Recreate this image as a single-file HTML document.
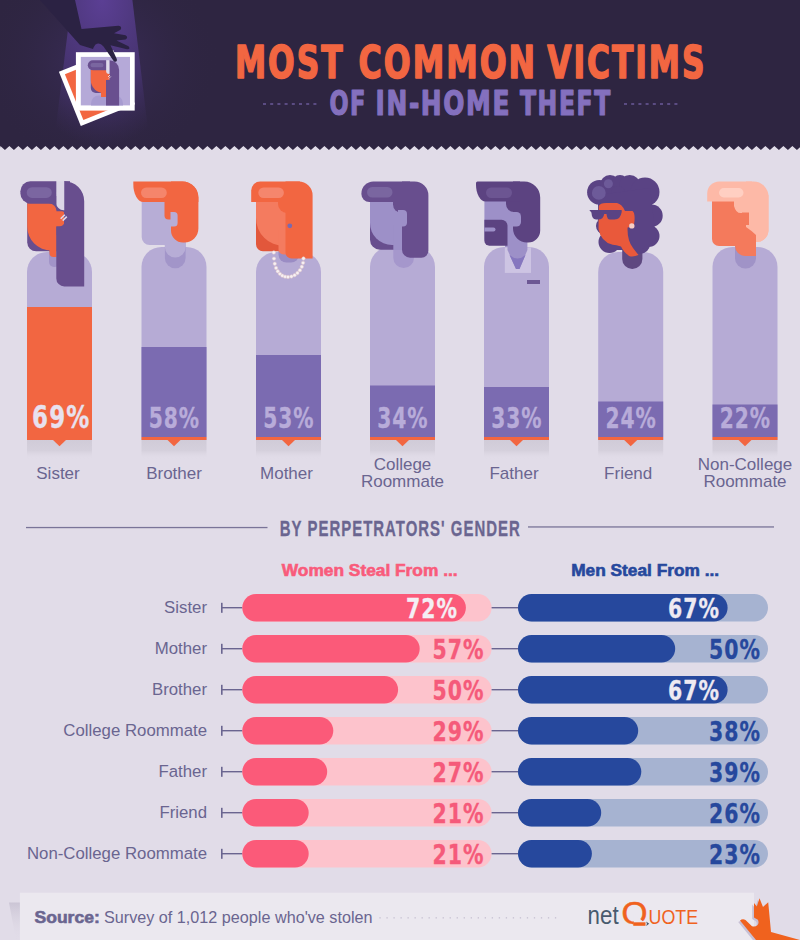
<!DOCTYPE html>
<html><head><meta charset="utf-8"><title>Most Common Victims of In-Home Theft</title>
<style>
html,body{margin:0;padding:0;width:800px;height:940px;overflow:hidden;background:#e1dce8}
svg{display:block;position:absolute;left:0;top:0}
svg{font-family:"Liberation Sans",Arial,sans-serif}
</style></head><body>
<svg width="800" height="940" viewBox="0 0 800 940">
<defs>
  <radialGradient id="spot" cx="0.5" cy="0" r="1">
    <stop offset="0" stop-color="#5b3f94"/>
    <stop offset="0.6" stop-color="#46336f"/>
    <stop offset="1" stop-color="#3a2c5a" stop-opacity="0"/>
  </radialGradient>
  <radialGradient id="glow" cx="0.5" cy="0.5" r="0.5">
    <stop offset="0" stop-color="#45336e" stop-opacity="0.6"/>
    <stop offset="1" stop-color="#2e2541" stop-opacity="0"/>
  </radialGradient>
  <linearGradient id="fshadow" x1="0" y1="0" x2="0" y2="1">
    <stop offset="0" stop-color="#cbc5d5"/>
    <stop offset="1" stop-color="#e1dce8" stop-opacity="0"/>
  </linearGradient>
  <linearGradient id="shadow" x1="0" y1="0" x2="0" y2="1">
    <stop offset="0" stop-color="#d0cbd8"/>
    <stop offset="0.55" stop-color="#d5d0dc"/>
    <stop offset="1" stop-color="#e1dce8" stop-opacity="0"/>
  </linearGradient>
</defs>
<clipPath id="hclip"><path d="M0,0 H800 V148 L801.4,146.0 L796.9,150.0 L792.4,146.0 L787.9,150.0 L783.4,146.0 L778.9,150.0 L774.4,146.0 L769.9,150.0 L765.4,146.0 L760.9,150.0 L756.4,146.0 L751.9,150.0 L747.4,146.0 L742.9,150.0 L738.4,146.0 L733.9,150.0 L729.4,146.0 L724.9,150.0 L720.4,146.0 L715.9,150.0 L711.4,146.0 L706.9,150.0 L702.4,146.0 L697.9,150.0 L693.4,146.0 L688.9,150.0 L684.4,146.0 L679.9,150.0 L675.4,146.0 L670.9,150.0 L666.4,146.0 L661.9,150.0 L657.4,146.0 L652.9,150.0 L648.4,146.0 L643.9,150.0 L639.4,146.0 L634.9,150.0 L630.4,146.0 L625.9,150.0 L621.4,146.0 L616.9,150.0 L612.4,146.0 L607.9,150.0 L603.4,146.0 L598.9,150.0 L594.4,146.0 L589.9,150.0 L585.4,146.0 L580.9,150.0 L576.4,146.0 L571.9,150.0 L567.4,146.0 L562.9,150.0 L558.4,146.0 L553.9,150.0 L549.4,146.0 L544.9,150.0 L540.4,146.0 L535.9,150.0 L531.4,146.0 L526.9,150.0 L522.4,146.0 L517.9,150.0 L513.4,146.0 L508.9,150.0 L504.4,146.0 L499.9,150.0 L495.4,146.0 L490.9,150.0 L486.4,146.0 L481.9,150.0 L477.4,146.0 L472.9,150.0 L468.4,146.0 L463.9,150.0 L459.4,146.0 L454.9,150.0 L450.4,146.0 L445.9,150.0 L441.4,146.0 L436.9,150.0 L432.4,146.0 L427.9,150.0 L423.4,146.0 L418.9,150.0 L414.4,146.0 L409.9,150.0 L405.4,146.0 L400.9,150.0 L396.4,146.0 L391.9,150.0 L387.4,146.0 L382.9,150.0 L378.4,146.0 L373.9,150.0 L369.4,146.0 L364.9,150.0 L360.4,146.0 L355.9,150.0 L351.4,146.0 L346.9,150.0 L342.4,146.0 L337.9,150.0 L333.4,146.0 L328.9,150.0 L324.4,146.0 L319.9,150.0 L315.4,146.0 L310.9,150.0 L306.4,146.0 L301.9,150.0 L297.4,146.0 L292.9,150.0 L288.4,146.0 L283.9,150.0 L279.4,146.0 L274.9,150.0 L270.4,146.0 L265.9,150.0 L261.4,146.0 L256.9,150.0 L252.4,146.0 L247.9,150.0 L243.4,146.0 L238.9,150.0 L234.4,146.0 L229.9,150.0 L225.4,146.0 L220.9,150.0 L216.4,146.0 L211.9,150.0 L207.4,146.0 L202.9,150.0 L198.4,146.0 L193.9,150.0 L189.4,146.0 L184.9,150.0 L180.4,146.0 L175.9,150.0 L171.4,146.0 L166.9,150.0 L162.4,146.0 L157.9,150.0 L153.4,146.0 L148.9,150.0 L144.4,146.0 L139.9,150.0 L135.4,146.0 L130.9,150.0 L126.4,146.0 L121.9,150.0 L117.4,146.0 L112.9,150.0 L108.4,146.0 L103.9,150.0 L99.4,146.0 L94.9,150.0 L90.4,146.0 L85.9,150.0 L81.4,146.0 L76.9,150.0 L72.4,146.0 L67.9,150.0 L63.4,146.0 L58.9,150.0 L54.4,146.0 L49.9,150.0 L45.4,146.0 L40.9,150.0 L36.4,146.0 L31.9,150.0 L27.4,146.0 L22.9,150.0 L18.4,146.0 L13.9,150.0 L9.4,146.0 L4.9,150.0 L0.4,146.0 L0,148 Z"/></clipPath>
<path fill="#2e2541" d="M0,0 H800 V148 L801.4,146.0 L796.9,150.0 L792.4,146.0 L787.9,150.0 L783.4,146.0 L778.9,150.0 L774.4,146.0 L769.9,150.0 L765.4,146.0 L760.9,150.0 L756.4,146.0 L751.9,150.0 L747.4,146.0 L742.9,150.0 L738.4,146.0 L733.9,150.0 L729.4,146.0 L724.9,150.0 L720.4,146.0 L715.9,150.0 L711.4,146.0 L706.9,150.0 L702.4,146.0 L697.9,150.0 L693.4,146.0 L688.9,150.0 L684.4,146.0 L679.9,150.0 L675.4,146.0 L670.9,150.0 L666.4,146.0 L661.9,150.0 L657.4,146.0 L652.9,150.0 L648.4,146.0 L643.9,150.0 L639.4,146.0 L634.9,150.0 L630.4,146.0 L625.9,150.0 L621.4,146.0 L616.9,150.0 L612.4,146.0 L607.9,150.0 L603.4,146.0 L598.9,150.0 L594.4,146.0 L589.9,150.0 L585.4,146.0 L580.9,150.0 L576.4,146.0 L571.9,150.0 L567.4,146.0 L562.9,150.0 L558.4,146.0 L553.9,150.0 L549.4,146.0 L544.9,150.0 L540.4,146.0 L535.9,150.0 L531.4,146.0 L526.9,150.0 L522.4,146.0 L517.9,150.0 L513.4,146.0 L508.9,150.0 L504.4,146.0 L499.9,150.0 L495.4,146.0 L490.9,150.0 L486.4,146.0 L481.9,150.0 L477.4,146.0 L472.9,150.0 L468.4,146.0 L463.9,150.0 L459.4,146.0 L454.9,150.0 L450.4,146.0 L445.9,150.0 L441.4,146.0 L436.9,150.0 L432.4,146.0 L427.9,150.0 L423.4,146.0 L418.9,150.0 L414.4,146.0 L409.9,150.0 L405.4,146.0 L400.9,150.0 L396.4,146.0 L391.9,150.0 L387.4,146.0 L382.9,150.0 L378.4,146.0 L373.9,150.0 L369.4,146.0 L364.9,150.0 L360.4,146.0 L355.9,150.0 L351.4,146.0 L346.9,150.0 L342.4,146.0 L337.9,150.0 L333.4,146.0 L328.9,150.0 L324.4,146.0 L319.9,150.0 L315.4,146.0 L310.9,150.0 L306.4,146.0 L301.9,150.0 L297.4,146.0 L292.9,150.0 L288.4,146.0 L283.9,150.0 L279.4,146.0 L274.9,150.0 L270.4,146.0 L265.9,150.0 L261.4,146.0 L256.9,150.0 L252.4,146.0 L247.9,150.0 L243.4,146.0 L238.9,150.0 L234.4,146.0 L229.9,150.0 L225.4,146.0 L220.9,150.0 L216.4,146.0 L211.9,150.0 L207.4,146.0 L202.9,150.0 L198.4,146.0 L193.9,150.0 L189.4,146.0 L184.9,150.0 L180.4,146.0 L175.9,150.0 L171.4,146.0 L166.9,150.0 L162.4,146.0 L157.9,150.0 L153.4,146.0 L148.9,150.0 L144.4,146.0 L139.9,150.0 L135.4,146.0 L130.9,150.0 L126.4,146.0 L121.9,150.0 L117.4,146.0 L112.9,150.0 L108.4,146.0 L103.9,150.0 L99.4,146.0 L94.9,150.0 L90.4,146.0 L85.9,150.0 L81.4,146.0 L76.9,150.0 L72.4,146.0 L67.9,150.0 L63.4,146.0 L58.9,150.0 L54.4,146.0 L49.9,150.0 L45.4,146.0 L40.9,150.0 L36.4,146.0 L31.9,150.0 L27.4,146.0 L22.9,150.0 L18.4,146.0 L13.9,150.0 L9.4,146.0 L4.9,150.0 L0.4,146.0 L0,148 Z"/>
<ellipse cx="100" cy="60" rx="120" ry="110" fill="url(#glow)" clip-path="url(#hclip)"/>
<path fill="url(#spot)" d="M71.7,0 L132.4,0 L150,146 L53.5,146 Z"/>
<g transform="translate(58.9,71.8) rotate(-22)"><rect x="0" y="0" width="58.5" height="58.5" fill="#ffffff"/><rect x="4.6" y="4.6" width="49.3" height="49.3" fill="#f26641"/></g>
<rect x="75.9" y="52.2" width="58.8" height="58.4" fill="#ffffff"/>
<rect x="80.8" y="56.9" width="49.2" height="48.5" fill="#b5a9d8"/>
<path fill="#a79bd0" d="M99.00,95.40 H115.00 A8.00,8.00 0 0 1 123.00,103.40 V105.40 H91.00 V103.40 A8.00,8.00 0 0 1 99.00,95.40 Z"/>
<path fill="#694f8f" d="M90.80,66.00 H101.00 V93.00 H95.80 A5.00,5.00 0 0 1 90.80,88.00 V66.00 Z"/>
<path fill="#f26641" d="M90.80,70.00 H107.00 V93.00 H103.80 A13.00,13.00 0 0 1 90.80,80.00 V70.00 Z"/>
<path fill="#f26641" d="M101.00,85.00 H107.00 V97.00 H101.00 V85.00 Z"/>
<path fill="#f26641" d="M105.00,73.00 H108.00 A3.00,3.00 0 0 1 111.00,76.00 V77.00 A3.00,3.00 0 0 1 108.00,80.00 H105.00 V73.00 Z"/>
<path fill="#694f8f" d="M109.4,60.2 A9.7,9.7 0 0 1 119.1,69.9 V105.4 H106 V80 H109.6 Z"/>
<path fill="#e0daea" d="M106.10,60.20 H109.40 V74.00 H109.10 A3.00,3.00 0 0 1 106.10,71.00 V60.20 Z"/>
<path fill="#694f8f" d="M92.80,60.20 H106.10 V70.20 H92.80 A5.00,5.00 0 0 1 87.80,65.20 V65.20 A5.00,5.00 0 0 1 92.80,60.20 Z"/>
<path fill="#7a66a0" d="M92.60,63.00 H101.40 A2.10,2.10 0 0 1 103.50,65.10 V65.20 A2.10,2.10 0 0 1 101.40,67.30 H92.60 A2.10,2.10 0 0 1 90.50,65.20 V65.10 A2.10,2.10 0 0 1 92.60,63.00 Z"/>
<path d="M108,77 L110,75 M108.8,78.5 L110.8,76.5" stroke="#f3eef6" stroke-width="0.8"/>
<path fill="#2b2243" d="M40,0 L75,0 L81.5,29 L118.5,25.8 Q122.5,26.5 120.5,29.8 L114,33.2 L125.5,35.2 Q128.8,37.3 125.5,39.6 L116.5,40.5 L128.5,46.3 Q131,49.5 127,49.2 L110.5,45.3 L116.8,59 Q117.5,62.5 114,61.5 L103.5,46.5 Q99.5,41.5 95.5,44.5 Q93.5,47 93,49 L80,45 Z"/>
<text x="235.00" y="77.90" font-family="DejaVu Sans Condensed, DejaVu Sans, Liberation Sans, sans-serif" font-stretch="condensed" font-size="44.00" font-weight="bold" fill="#f26641" stroke="#f26641" stroke-width="1.50" stroke-linejoin="round" letter-spacing="2.50" textLength="109.50" lengthAdjust="spacingAndGlyphs">MOST</text>
<text x="358.60" y="77.90" font-family="DejaVu Sans Condensed, DejaVu Sans, Liberation Sans, sans-serif" font-stretch="condensed" font-size="44.00" font-weight="bold" fill="#f26641" stroke="#f26641" stroke-width="1.50" stroke-linejoin="round" letter-spacing="2.50" textLength="178.40" lengthAdjust="spacingAndGlyphs">COMMON</text>
<text x="547.20" y="77.90" font-family="DejaVu Sans Condensed, DejaVu Sans, Liberation Sans, sans-serif" font-stretch="condensed" font-size="44.00" font-weight="bold" fill="#f26641" stroke="#f26641" stroke-width="1.50" stroke-linejoin="round" letter-spacing="2.50" textLength="159.30" lengthAdjust="spacingAndGlyphs">VICTIMS</text>
<text x="329.50" y="114.60" font-family="DejaVu Sans Condensed, DejaVu Sans, Liberation Sans, sans-serif" font-stretch="condensed" font-size="34.50" font-weight="bold" fill="#8470be" stroke="#8470be" stroke-width="1.20" stroke-linejoin="round" letter-spacing="2.00" textLength="37.30" lengthAdjust="spacingAndGlyphs">OF</text>
<text x="375.60" y="114.60" font-family="DejaVu Sans Condensed, DejaVu Sans, Liberation Sans, sans-serif" font-stretch="condensed" font-size="34.50" font-weight="bold" fill="#8470be" stroke="#8470be" stroke-width="1.20" stroke-linejoin="round" letter-spacing="2.00" textLength="135.40" lengthAdjust="spacingAndGlyphs">IN-HOME</text>
<text x="520.00" y="114.60" font-family="DejaVu Sans Condensed, DejaVu Sans, Liberation Sans, sans-serif" font-stretch="condensed" font-size="34.50" font-weight="bold" fill="#8470be" stroke="#8470be" stroke-width="1.20" stroke-linejoin="round" letter-spacing="2.00" textLength="91.80" lengthAdjust="spacingAndGlyphs">THEFT</text>
<rect x="263.0" y="103.4" width="3" height="1.2" fill="#7a68b0"/>
<rect x="270.2" y="103.4" width="3" height="1.2" fill="#7a68b0"/>
<rect x="277.4" y="103.4" width="3" height="1.2" fill="#7a68b0"/>
<rect x="284.6" y="103.4" width="3" height="1.2" fill="#7a68b0"/>
<rect x="291.8" y="103.4" width="3" height="1.2" fill="#7a68b0"/>
<rect x="299.0" y="103.4" width="3" height="1.2" fill="#7a68b0"/>
<rect x="306.2" y="103.4" width="3" height="1.2" fill="#7a68b0"/>
<rect x="313.4" y="103.4" width="3" height="1.2" fill="#7a68b0"/>
<rect x="624.0" y="103.4" width="3" height="1.2" fill="#7a68b0"/>
<rect x="631.2" y="103.4" width="3" height="1.2" fill="#7a68b0"/>
<rect x="638.4" y="103.4" width="3" height="1.2" fill="#7a68b0"/>
<rect x="645.6" y="103.4" width="3" height="1.2" fill="#7a68b0"/>
<rect x="652.8" y="103.4" width="3" height="1.2" fill="#7a68b0"/>
<rect x="660.0" y="103.4" width="3" height="1.2" fill="#7a68b0"/>
<rect x="667.2" y="103.4" width="3" height="1.2" fill="#7a68b0"/>
<rect x="674.4" y="103.4" width="3" height="1.2" fill="#7a68b0"/>
<rect x="27.0" y="440" width="65" height="19" fill="url(#shadow)"/>
<path fill="#b6abd5" d="M27.0,440 V272.0 A20,20 0 0 1 47.0,252.0 H72.0 A20,20 0 0 1 92.0,272.0 V440 Z"/>
<rect x="27.0" y="307.0" width="65" height="133.0" fill="#f26641"/>
<path fill="#f26641" d="M53.0,440 L66.0,440 L59.5,446.3 Z"/>
<text x="32.0" y="427.5" font-family="DejaVu Sans Condensed, DejaVu Sans, Liberation Sans, sans-serif" font-stretch="condensed" font-size="32.5" font-weight="bold" fill="#e8e1ee" stroke="#e8e1ee" stroke-width="0.3" letter-spacing="1.5" textLength="58.5" lengthAdjust="spacingAndGlyphs">69%</text>
<path fill="#a194c8" d="M49.00,246.00 H60.00 V262.00 A5.00,5.00 0 0 1 55.00,267.00 H54.00 A5.00,5.00 0 0 1 49.00,262.00 V246.00 Z"/>
<path fill="#684e8e" d="M27.20,196.00 H66.00 V251.30 H36.20 A9.00,9.00 0 0 1 27.20,242.30 V196.00 Z"/>
<path fill="#f26641" d="M27.20,203.50 H49.00 A7.50,7.50 0 0 1 56.50,211.00 V250.50 H51.20 A24.00,24.00 0 0 1 27.20,226.50 V203.50 Z"/>
<path fill="#f26641" d="M49.50,235.00 H56.50 V257.00 H53.50 A4.00,4.00 0 0 1 49.50,253.00 V235.00 Z"/>
<path fill="#f26641" d="M54.00,211.30 H62.00 A2.50,2.50 0 0 1 64.50,213.80 V221.50 A5.00,5.00 0 0 1 59.50,226.50 H54.00 V211.30 Z"/>
<path fill="#684e8e" d="M64.2,181.2 H64.2 A20,20 0 0 1 84.2,201.2 V286.4 H64.3 A8,8 0 0 1 56.3,278.4 V226.5 H64.2 Z"/>
<path fill="#684e8e" d="M64.00,181.20 H70.00 V228.00 H64.00 V181.20 Z"/>
<path fill="#dcd6e6" d="M56.20,181.20 H64.25 V210.20 H63.70 A7.50,7.50 0 0 1 56.20,202.70 V181.20 Z"/>
<path fill="#684e8e" d="M30.40,181.20 H56.30 V203.50 H30.40 A10.00,10.00 0 0 1 20.40,193.50 V191.20 A10.00,10.00 0 0 1 30.40,181.20 Z"/>
<path fill="#7b66a1" d="M32.00,187.20 H46.50 A5.30,5.30 0 0 1 51.80,192.50 V192.60 A5.30,5.30 0 0 1 46.50,197.90 H32.00 A5.30,5.30 0 0 1 26.70,192.60 V192.50 A5.30,5.30 0 0 1 32.00,187.20 Z"/>
<path d="M60.7,218.8 L64.8,214.8 M62.7,220.6 L66.8,216.6" stroke="#dcd8ec" stroke-width="1.6" fill="none"/>
<text x="58.0" y="478.5" font-size="17" fill="#6a6590" text-anchor="middle">Sister</text>
<rect x="141.5" y="440" width="65" height="19" fill="url(#shadow)"/>
<path fill="#b6abd5" d="M141.5,440 V267.0 A20,20 0 0 1 161.5,247.0 H186.5 A20,20 0 0 1 206.5,267.0 V440 Z"/>
<rect x="141.5" y="347.0" width="65" height="90.0" fill="#7b6bb1"/>
<rect x="141.5" y="437" width="65" height="3" fill="#f26641"/>
<path fill="#f26641" d="M167.5,440 L180.5,440 L174.0,446.3 Z"/>
<text x="148.7" y="427.8" font-family="DejaVu Sans Condensed, DejaVu Sans, Liberation Sans, sans-serif" font-stretch="condensed" font-size="29" font-weight="bold" fill="#b8acd9" stroke="#b8acd9" stroke-width="0.3" letter-spacing="1.2" textLength="51.2" lengthAdjust="spacingAndGlyphs">58%</text>
<path fill="#a295c9" d="M164.90,236.00 H185.60 V258.00 A10.30,10.30 0 0 1 175.30,268.30 H175.20 A10.30,10.30 0 0 1 164.90,258.00 V236.00 Z"/>
<path fill="#b7add6" d="M164.90,236.00 H185.60 V247.20 A10.30,10.30 0 0 1 175.30,257.50 H175.20 A10.30,10.30 0 0 1 164.90,247.20 V236.00 Z"/>
<path fill="#b7add6" d="M141.70,198.00 H178.00 V245.00 H149.70 A8.00,8.00 0 0 1 141.70,237.00 V198.00 Z"/>
<path fill="#f26641" d="M171.00,181.50 H182.40 A16.00,16.00 0 0 1 198.40,197.50 V228.60 A14.00,14.00 0 0 1 184.40,242.60 H183.00 A12.00,12.00 0 0 1 171.00,230.60 V181.50 Z"/>
<path fill="#f26641" d="M164.50,195.00 H172.00 V219.50 H168.50 A4.00,4.00 0 0 1 164.50,215.50 V195.00 Z"/>
<path fill="#f26641" d="M133.30,181.50 H182.40 A16.00,16.00 0 0 1 198.40,197.50 V202.00 H143.30 A10.00,18.00 0 0 1 133.30,184.00 V181.50 Z"/>
<path fill="#b7add6" d="M170.50,212.00 H174.10 A3.50,3.50 0 0 1 177.60,215.50 V223.10 A3.50,3.50 0 0 1 174.10,226.60 H170.50 V212.00 Z"/>
<path fill="#f5856b" d="M146.20,187.50 H161.60 A5.20,5.20 0 0 1 166.80,192.70 V192.70 A5.20,5.20 0 0 1 161.60,197.90 H146.20 A5.20,5.20 0 0 1 141.00,192.70 V192.70 A5.20,5.20 0 0 1 146.20,187.50 Z"/>
<text x="174.0" y="478.5" font-size="17" fill="#6a6590" text-anchor="middle">Brother</text>
<rect x="256.0" y="440" width="65" height="19" fill="url(#shadow)"/>
<path fill="#b6abd5" d="M256.0,440 V272.0 A20,20 0 0 1 276.0,252.0 H301.0 A20,20 0 0 1 321.0,272.0 V440 Z"/>
<rect x="256.0" y="355.0" width="65" height="82.0" fill="#7b6bb1"/>
<rect x="256.0" y="437" width="65" height="3" fill="#f26641"/>
<path fill="#f26641" d="M282.0,440 L295.0,440 L288.5,446.3 Z"/>
<text x="263.2" y="427.8" font-family="DejaVu Sans Condensed, DejaVu Sans, Liberation Sans, sans-serif" font-stretch="condensed" font-size="29" font-weight="bold" fill="#b8acd9" stroke="#b8acd9" stroke-width="0.3" letter-spacing="1.2" textLength="51.2" lengthAdjust="spacingAndGlyphs">53%</text>
<path fill="#9a8cc4" d="M278.50,246.00 H299.00 V254.50 A8.00,8.00 0 0 1 291.00,262.50 H286.50 A8.00,8.00 0 0 1 278.50,254.50 V246.00 Z"/>
<path fill="#e2573b" d="M256.00,200.00 H287.00 V251.30 H263.00 A7.00,7.00 0 0 1 256.00,244.30 V200.00 Z"/>
<path fill="#f47b5f" d="M256.00,202.00 H292.00 V246.00 H284.00 A28.00,28.00 0 0 1 256.00,218.00 V202.00 Z"/>
<path fill="#f47b5f" d="M278.50,230.00 H292.00 V254.50 H283.50 A5.00,5.00 0 0 1 278.50,249.50 V230.00 Z"/>
<path fill="#f26641" d="M285.50,181.50 H298.60 A14.00,14.00 0 0 1 312.60,195.50 V258.50 H291.50 A6.00,6.00 0 0 1 285.50,252.50 V181.50 Z"/>
<path fill="#f26641" d="M278.00,190.00 H300.00 V213.00 H287.00 A9.00,9.00 0 0 1 278.00,204.00 V190.00 Z"/>
<path fill="#f26641" d="M260.20,181.50 H300.00 V202.00 H251.20 V190.50 A9.00,9.00 0 0 1 260.20,181.50 Z"/>
<path fill="#f5866d" d="M263.50,187.50 H278.70 A5.20,5.20 0 0 1 283.90,192.70 V192.80 A5.20,5.20 0 0 1 278.70,198.00 H263.50 A5.20,5.20 0 0 1 258.30,192.80 V192.70 A5.20,5.20 0 0 1 263.50,187.50 Z"/>
<circle cx="289.80" cy="225.80" r="2.40" fill="#7a6ab0"/>
<circle cx="273.80" cy="252.50" r="1.70" fill="#f6f1f4" stroke="#e3c7c9" stroke-width="0.5"/>
<circle cx="274.00" cy="258.58" r="1.70" fill="#f6f1f4" stroke="#e3c7c9" stroke-width="0.5"/>
<circle cx="274.77" cy="263.71" r="1.70" fill="#f6f1f4" stroke="#e3c7c9" stroke-width="0.5"/>
<circle cx="276.05" cy="267.94" r="1.70" fill="#f6f1f4" stroke="#e3c7c9" stroke-width="0.5"/>
<circle cx="277.79" cy="271.31" r="1.70" fill="#f6f1f4" stroke="#e3c7c9" stroke-width="0.5"/>
<circle cx="279.91" cy="273.86" r="1.70" fill="#f6f1f4" stroke="#e3c7c9" stroke-width="0.5"/>
<circle cx="282.36" cy="275.63" r="1.70" fill="#f6f1f4" stroke="#e3c7c9" stroke-width="0.5"/>
<circle cx="285.08" cy="276.67" r="1.70" fill="#f6f1f4" stroke="#e3c7c9" stroke-width="0.5"/>
<circle cx="288.00" cy="277.00" r="1.70" fill="#f6f1f4" stroke="#e3c7c9" stroke-width="0.5"/>
<circle cx="291.38" cy="276.53" r="1.70" fill="#f6f1f4" stroke="#e3c7c9" stroke-width="0.5"/>
<circle cx="294.57" cy="275.17" r="1.70" fill="#f6f1f4" stroke="#e3c7c9" stroke-width="0.5"/>
<circle cx="297.46" cy="273.02" r="1.70" fill="#f6f1f4" stroke="#e3c7c9" stroke-width="0.5"/>
<circle cx="299.92" cy="270.19" r="1.70" fill="#f6f1f4" stroke="#e3c7c9" stroke-width="0.5"/>
<circle cx="301.83" cy="266.76" r="1.70" fill="#f6f1f4" stroke="#e3c7c9" stroke-width="0.5"/>
<circle cx="303.06" cy="262.83" r="1.70" fill="#f6f1f4" stroke="#e3c7c9" stroke-width="0.5"/>
<circle cx="303.50" cy="258.50" r="1.70" fill="#f6f1f4" stroke="#e3c7c9" stroke-width="0.5"/>
<text x="286.5" y="478.5" font-size="17" fill="#6a6590" text-anchor="middle">Mother</text>
<rect x="370.0" y="440" width="65" height="19" fill="url(#shadow)"/>
<path fill="#b6abd5" d="M370.0,440 V267.0 A20,20 0 0 1 390.0,247.0 H415.0 A20,20 0 0 1 435.0,267.0 V440 Z"/>
<rect x="370.0" y="385.5" width="65" height="51.5" fill="#7b6bb1"/>
<rect x="370.0" y="437" width="65" height="3" fill="#f26641"/>
<path fill="#f26641" d="M396.0,440 L409.0,440 L402.5,446.3 Z"/>
<text x="377.2" y="427.8" font-family="DejaVu Sans Condensed, DejaVu Sans, Liberation Sans, sans-serif" font-stretch="condensed" font-size="29" font-weight="bold" fill="#b8acd9" stroke="#b8acd9" stroke-width="0.3" letter-spacing="1.2" textLength="51.2" lengthAdjust="spacingAndGlyphs">34%</text>
<path fill="#a597cc" d="M393.30,228.00 H414.00 V257.70 A10.30,10.30 0 0 1 403.70,268.00 H403.60 A10.30,10.30 0 0 1 393.30,257.70 V228.00 Z"/>
<path fill="#684e8e" d="M370.00,200.00 H402.00 V249.70 H380.00 A10.00,10.00 0 0 1 370.00,239.70 V200.00 Z"/>
<path fill="#9d90c8" d="M370.00,202.00 H402.50 V245.00 H392.00 A22.00,22.00 0 0 1 370.00,223.00 V202.00 Z"/>
<path fill="#9d90c8" d="M393.30,225.00 H402.50 V250.00 H393.30 V225.00 Z"/>
<path fill="#684e8e" d="M402.00,181.50 H414.40 A14.00,14.00 0 0 1 428.40,195.50 V250.70 A7.00,7.00 0 0 1 421.40,257.70 H410.00 A8.00,8.00 0 0 1 402.00,249.70 V181.50 Z"/>
<path fill="#684e8e" d="M393.00,190.00 H410.00 V212.50 H401.00 A8.00,8.00 0 0 1 393.00,204.50 V190.00 Z"/>
<path fill="#9d90c8" d="M398.00,210.00 H403.00 A4.00,4.00 0 0 1 407.00,214.00 V222.60 A4.00,4.00 0 0 1 403.00,226.60 H398.00 V210.00 Z"/>
<path fill="#684e8e" d="M373.40,181.50 H410.00 V202.00 H369.40 A8.00,8.00 0 0 1 361.40,194.00 V193.50 A12.00,12.00 0 0 1 373.40,181.50 Z"/>
<path fill="#7a66a0" d="M372.20,187.00 H387.30 A5.20,5.20 0 0 1 392.50,192.20 V192.30 A5.20,5.20 0 0 1 387.30,197.50 H372.20 A5.20,5.20 0 0 1 367.00,192.30 V192.20 A5.20,5.20 0 0 1 372.20,187.00 Z"/>
<text x="402.5" y="469.5" font-size="17" fill="#6a6590" text-anchor="middle">College</text>
<text x="402.5" y="487" font-size="17" fill="#6a6590" text-anchor="middle">Roommate</text>
<rect x="484.0" y="440" width="65" height="19" fill="url(#shadow)"/>
<path fill="#b6abd5" d="M484.0,440 V267.0 A20,20 0 0 1 504.0,247.0 H529.0 A20,20 0 0 1 549.0,267.0 V440 Z"/>
<rect x="484.0" y="387.0" width="65" height="50.0" fill="#7b6bb1"/>
<rect x="484.0" y="437" width="65" height="3" fill="#f26641"/>
<path fill="#f26641" d="M510.0,440 L523.0,440 L516.5,446.3 Z"/>
<text x="491.2" y="427.8" font-family="DejaVu Sans Condensed, DejaVu Sans, Liberation Sans, sans-serif" font-stretch="condensed" font-size="29" font-weight="bold" fill="#b8acd9" stroke="#b8acd9" stroke-width="0.3" letter-spacing="1.2" textLength="51.2" lengthAdjust="spacingAndGlyphs">33%</text>
<path fill="#cdc4e3" d="M504.8,247.4 H531 V272.9 H504.8 Z"/>
<path fill="#9d90c8" d="M507.5,238 H527.4 V250 L519.5,269 H516 L507.5,250 Z"/>
<path fill="#8677bf" d="M509.5,255 Q517.5,262 525.5,255 L519.5,269 H516 Z"/>
<path fill="#9d90c8" d="M484.40,199.00 H514.00 V245.00 H490.40 A6.00,6.00 0 0 1 484.40,239.00 V199.00 Z"/>
<path fill="#9d90c8" d="M505.00,225.00 H522.00 V247.00 H505.00 V225.00 Z"/>
<path fill="#5c4381" d="M484.40,219.80 H501.50 A6.00,6.00 0 0 1 507.50,225.80 V245.80 H489.40 A5.00,5.00 0 0 1 484.40,240.80 V219.80 Z"/>
<path fill="#9d90c8" d="M484.40,227.40 H493.50 A2.00,2.00 0 0 1 495.50,229.40 V229.40 A2.00,2.00 0 0 1 493.50,231.40 H484.40 V227.40 Z"/>
<path fill="#5c4381" d="M513.00,181.50 H524.20 A16.00,16.00 0 0 1 540.20,197.50 V230.60 A12.00,12.00 0 0 1 528.20,242.60 H527.00 A14.00,14.00 0 0 1 513.00,228.60 V181.50 Z"/>
<path fill="#5c4381" d="M506.00,190.00 H520.00 V212.00 H514.00 A8.00,8.00 0 0 1 506.00,204.00 V190.00 Z"/>
<path fill="#9d90c8" d="M511.00,212.00 H516.50 A4.50,4.50 0 0 1 521.00,216.50 V222.10 A4.50,4.50 0 0 1 516.50,226.60 H511.00 V212.00 Z"/>
<path fill="#5c4381" d="M477.50,181.50 H520.00 A0.00,0.00 0 0 1 520.00,181.50 V201.50 H485.50 A9.50,17.00 0 0 1 476.00,184.50 V183.00 A1.50,1.50 0 0 1 477.50,181.50 Z"/>
<path fill="#6c5592" d="M491.20,187.50 H506.80 A5.20,5.20 0 0 1 512.00,192.70 V192.80 A5.20,5.20 0 0 1 506.80,198.00 H491.20 A5.20,5.20 0 0 1 486.00,192.80 V192.70 A5.20,5.20 0 0 1 491.20,187.50 Z"/>
<path fill="#6d5894" d="M527.00,280.00 H540.00 V284.00 H527.00 V280.00 Z"/>
<text x="514.0" y="478.5" font-size="17" fill="#6a6590" text-anchor="middle">Father</text>
<rect x="598.2" y="440" width="65" height="19" fill="url(#shadow)"/>
<path fill="#b6abd5" d="M598.2,440 V272.0 A20,20 0 0 1 618.2,252.0 H643.2 A20,20 0 0 1 663.2,272.0 V440 Z"/>
<rect x="598.2" y="401.5" width="65" height="35.5" fill="#7b6bb1"/>
<rect x="598.2" y="437" width="65" height="3" fill="#f26641"/>
<path fill="#f26641" d="M624.2,440 L637.2,440 L630.7,446.3 Z"/>
<text x="605.4" y="427.8" font-family="DejaVu Sans Condensed, DejaVu Sans, Liberation Sans, sans-serif" font-stretch="condensed" font-size="29" font-weight="bold" fill="#b8acd9" stroke="#b8acd9" stroke-width="0.3" letter-spacing="1.2" textLength="51.2" lengthAdjust="spacingAndGlyphs">24%</text>
<path fill="#5e4880" d="M622.20,240.00 H642.40 V259.00 A10.00,10.00 0 0 1 632.40,269.00 H632.20 A10.00,10.00 0 0 1 622.20,259.00 V240.00 Z"/>
<circle cx="599.40" cy="192.30" r="12.30" fill="#5a4384"/>
<circle cx="610.00" cy="185.00" r="10.00" fill="#5a4384"/>
<circle cx="620.00" cy="183.00" r="8.00" fill="#5a4384"/>
<circle cx="629.70" cy="185.50" r="10.50" fill="#5a4384"/>
<circle cx="645.00" cy="192.00" r="14.50" fill="#5a4384"/>
<circle cx="651.50" cy="215.70" r="11.20" fill="#5a4384"/>
<circle cx="648.50" cy="236.00" r="11.00" fill="#5a4384"/>
<circle cx="640.00" cy="244.00" r="10.00" fill="#5a4384"/>
<circle cx="609.50" cy="242.00" r="11.00" fill="#5a4384"/>
<circle cx="604.00" cy="226.00" r="8.00" fill="#5a4384"/>
<circle cx="618.00" cy="193.00" r="7.00" fill="#5a4384"/>
<path fill="#5a4384" d="M598,195 L650,188 L656,240 L640,250 L610,250 L598,230 Z"/>
<circle cx="598.80" cy="192.90" r="6.90" fill="#6d5a99"/>
<circle cx="608.40" cy="183.80" r="4.50" fill="#6d5a99"/>
<path fill="#e9593b" d="M598.8,206 Q600,203 606,203 L617,203 Q622,204 625,211 L632.5,211 Q634.8,213 634.6,218.5 Q634.6,225 632.5,226.5 L627.6,227.4 Q627,240 633,248 Q636,252 638.5,255 Q634,257 629.7,256.2 Q624,253 621,246.6 Q616,245 612.7,244.8 Q601,242 598.5,229 Z"/>
<path fill="#5a4384" d="M589.3,209.9 H621.7 V212 Q620.5,219.5 614.5,219.5 H610 Q607,219.5 606.5,214 H604.2 Q603.5,219.5 598,219.5 H596 Q592,219.5 591.4,212.5 Z"/>
<circle cx="631.80" cy="225.90" r="2.70" fill="#f8cfc6"/>
<text x="628.2" y="478.5" font-size="17" fill="#6a6590" text-anchor="middle">Friend</text>
<rect x="712.5" y="440" width="65" height="19" fill="url(#shadow)"/>
<path fill="#b6abd5" d="M712.5,440 V267.0 A20,20 0 0 1 732.5,247.0 H757.5 A20,20 0 0 1 777.5,267.0 V440 Z"/>
<rect x="712.5" y="404.5" width="65" height="32.5" fill="#7b6bb1"/>
<rect x="712.5" y="437" width="65" height="3" fill="#f26641"/>
<path fill="#f26641" d="M738.5,440 L751.5,440 L745.0,446.3 Z"/>
<text x="719.7" y="427.8" font-family="DejaVu Sans Condensed, DejaVu Sans, Liberation Sans, sans-serif" font-stretch="condensed" font-size="29" font-weight="bold" fill="#b8acd9" stroke="#b8acd9" stroke-width="0.3" letter-spacing="1.2" textLength="51.2" lengthAdjust="spacingAndGlyphs">22%</text>
<path fill="#a093c7" d="M735.00,236.00 H756.00 V258.20 A10.30,10.30 0 0 1 745.70,268.50 H745.30 A10.30,10.30 0 0 1 735.00,258.20 V236.00 Z"/>
<path fill="#f47a5c" d="M735.00,236.00 H756.00 V256.00 H745.30 A10.30,10.30 0 0 1 735.00,245.70 V236.00 Z"/>
<path fill="#f47a5c" d="M712.00,199.00 H752.00 V246.00 H719.00 A7.00,7.00 0 0 1 712.00,239.00 V199.00 Z"/>
<path fill="#fdb9a7" d="M734,195 H768.5 V230 A12,12 0 0 1 756.5,242 H756 V235 Q750,229 746,227 L749,225 V213 H742 Q736,214 734,206 Z"/>
<path fill="#fdb9a7" d="M746.00,181.50 H753.50 A15.00,15.00 0 0 1 768.50,196.50 V230.00 A12.00,12.00 0 0 1 756.50,242.00 H746.00 V181.50 Z"/>
<path fill="#f47a5c" d="M746,227 Q752,231 756,235 V243 H746 Z"/>
<path fill="#f47a5c" d="M742.00,212.50 H749.00 V225.00 H742.00 V212.50 Z"/>
<path fill="#fdb9a7" d="M719.20,181.50 H752.00 V201.50 H707.20 V193.50 A12.00,12.00 0 0 1 719.20,181.50 Z"/>
<path fill="#ffcfc2" d="M723.80,188.00 H738.70 A4.80,4.80 0 0 1 743.50,192.80 V192.70 A4.80,4.80 0 0 1 738.70,197.50 H723.80 A4.80,4.80 0 0 1 719.00,192.70 V192.80 A4.80,4.80 0 0 1 723.80,188.00 Z"/>
<text x="745.0" y="469.5" font-size="17" fill="#6a6590" text-anchor="middle">Non-College</text>
<text x="745.0" y="487" font-size="17" fill="#6a6590" text-anchor="middle">Roommate</text>
<rect x="26" y="526.9" width="241.5" height="1.3" fill="#7a7498"/>
<rect x="528" y="526.3" width="246" height="1.3" fill="#7a7498"/>
<text x="279.8" y="536.1" font-size="22" font-weight="bold" fill="#6a6590" stroke="#6a6590" stroke-width="0.3" letter-spacing="1.5" textLength="241" lengthAdjust="spacingAndGlyphs">BY PERPETRATORS' GENDER</text>
<text x="281.8" y="575.8" font-size="16.5" font-weight="bold" fill="#f95b7b" stroke="#f95b7b" stroke-width="0.6" textLength="175.8" lengthAdjust="spacingAndGlyphs">Women Steal From ...</text>
<text x="571.2" y="576.2" font-size="16.5" font-weight="bold" fill="#26489d" stroke="#26489d" stroke-width="0.6" textLength="148" lengthAdjust="spacingAndGlyphs">Men Steal From ...</text>
<text x="207" y="613.4" font-size="16.8" fill="#6a6590" text-anchor="end">Sister</text>
<rect x="221" y="602.8" width="1.6" height="10" fill="#6a6590"/>
<rect x="221" y="607.0" width="22" height="1.4" fill="#6a6590"/>
<rect x="242.3" y="594.0" width="249.3" height="27.5" rx="13.75" fill="#fdc3cc"/>
<rect x="242.3" y="594.0" width="223.6" height="27.5" rx="13.75" fill="#fb5a79"/>
<rect x="491.6" y="607.0" width="27" height="1.4" fill="#6a6590"/>
<rect x="518.0" y="594.0" width="250.0" height="27.5" rx="13.75" fill="#a6b3d1"/>
<rect x="518.0" y="594.0" width="209.6" height="27.5" rx="13.75" fill="#26489d"/>
<text x="405.9" y="618.0" font-family="DejaVu Sans Condensed, DejaVu Sans, Liberation Sans, sans-serif" font-stretch="condensed" font-size="26.6" font-weight="bold" fill="#f4eef4" letter-spacing="1.2" stroke="#f4eef4" stroke-width="0.3" textLength="52" lengthAdjust="spacingAndGlyphs">72%</text>
<text x="667.9" y="618.0" font-family="DejaVu Sans Condensed, DejaVu Sans, Liberation Sans, sans-serif" font-stretch="condensed" font-size="26.6" font-weight="bold" fill="#eeeaf2" letter-spacing="1.2" stroke="#eeeaf2" stroke-width="0.3" textLength="52" lengthAdjust="spacingAndGlyphs">67%</text>
<text x="207" y="654.4" font-size="16.8" fill="#6a6590" text-anchor="end">Mother</text>
<rect x="221" y="643.8" width="1.6" height="10" fill="#6a6590"/>
<rect x="221" y="648.0" width="22" height="1.4" fill="#6a6590"/>
<rect x="242.3" y="635.0" width="249.3" height="27.5" rx="13.75" fill="#fdc3cc"/>
<rect x="242.3" y="635.0" width="177.4" height="27.5" rx="13.75" fill="#fb5a79"/>
<rect x="491.6" y="648.0" width="27" height="1.4" fill="#6a6590"/>
<rect x="518.0" y="635.0" width="250.0" height="27.5" rx="13.75" fill="#a6b3d1"/>
<rect x="518.0" y="635.0" width="157.2" height="27.5" rx="13.75" fill="#26489d"/>
<text x="432.5" y="659.0" font-family="DejaVu Sans Condensed, DejaVu Sans, Liberation Sans, sans-serif" font-stretch="condensed" font-size="26.6" font-weight="bold" fill="#f55a7a" letter-spacing="1.2" stroke="#f55a7a" stroke-width="0.3" textLength="52" lengthAdjust="spacingAndGlyphs">57%</text>
<text x="709.0" y="659.0" font-family="DejaVu Sans Condensed, DejaVu Sans, Liberation Sans, sans-serif" font-stretch="condensed" font-size="26.6" font-weight="bold" fill="#26489d" letter-spacing="1.2" stroke="#26489d" stroke-width="0.3" textLength="52" lengthAdjust="spacingAndGlyphs">50%</text>
<text x="207" y="695.4" font-size="16.8" fill="#6a6590" text-anchor="end">Brother</text>
<rect x="221" y="684.8" width="1.6" height="10" fill="#6a6590"/>
<rect x="221" y="689.0" width="22" height="1.4" fill="#6a6590"/>
<rect x="242.3" y="676.0" width="249.3" height="27.5" rx="13.75" fill="#fdc3cc"/>
<rect x="242.3" y="676.0" width="155.8" height="27.5" rx="13.75" fill="#fb5a79"/>
<rect x="491.6" y="689.0" width="27" height="1.4" fill="#6a6590"/>
<rect x="518.0" y="676.0" width="250.0" height="27.5" rx="13.75" fill="#a6b3d1"/>
<rect x="518.0" y="676.0" width="209.6" height="27.5" rx="13.75" fill="#26489d"/>
<text x="432.5" y="700.0" font-family="DejaVu Sans Condensed, DejaVu Sans, Liberation Sans, sans-serif" font-stretch="condensed" font-size="26.6" font-weight="bold" fill="#f55a7a" letter-spacing="1.2" stroke="#f55a7a" stroke-width="0.3" textLength="52" lengthAdjust="spacingAndGlyphs">50%</text>
<text x="667.9" y="700.0" font-family="DejaVu Sans Condensed, DejaVu Sans, Liberation Sans, sans-serif" font-stretch="condensed" font-size="26.6" font-weight="bold" fill="#eeeaf2" letter-spacing="1.2" stroke="#eeeaf2" stroke-width="0.3" textLength="52" lengthAdjust="spacingAndGlyphs">67%</text>
<text x="207" y="736.4" font-size="16.8" fill="#6a6590" text-anchor="end">College Roommate</text>
<rect x="221" y="725.8" width="1.6" height="10" fill="#6a6590"/>
<rect x="221" y="730.0" width="22" height="1.4" fill="#6a6590"/>
<rect x="242.3" y="717.0" width="249.3" height="27.5" rx="13.75" fill="#fdc3cc"/>
<rect x="242.3" y="717.0" width="91.0" height="27.5" rx="13.75" fill="#fb5a79"/>
<rect x="491.6" y="730.0" width="27" height="1.4" fill="#6a6590"/>
<rect x="518.0" y="717.0" width="250.0" height="27.5" rx="13.75" fill="#a6b3d1"/>
<rect x="518.0" y="717.0" width="120.2" height="27.5" rx="13.75" fill="#26489d"/>
<text x="432.5" y="741.0" font-family="DejaVu Sans Condensed, DejaVu Sans, Liberation Sans, sans-serif" font-stretch="condensed" font-size="26.6" font-weight="bold" fill="#f55a7a" letter-spacing="1.2" stroke="#f55a7a" stroke-width="0.3" textLength="52" lengthAdjust="spacingAndGlyphs">29%</text>
<text x="709.0" y="741.0" font-family="DejaVu Sans Condensed, DejaVu Sans, Liberation Sans, sans-serif" font-stretch="condensed" font-size="26.6" font-weight="bold" fill="#26489d" letter-spacing="1.2" stroke="#26489d" stroke-width="0.3" textLength="52" lengthAdjust="spacingAndGlyphs">38%</text>
<text x="207" y="777.4" font-size="16.8" fill="#6a6590" text-anchor="end">Father</text>
<rect x="221" y="766.8" width="1.6" height="10" fill="#6a6590"/>
<rect x="221" y="771.0" width="22" height="1.4" fill="#6a6590"/>
<rect x="242.3" y="758.0" width="249.3" height="27.5" rx="13.75" fill="#fdc3cc"/>
<rect x="242.3" y="758.0" width="84.9" height="27.5" rx="13.75" fill="#fb5a79"/>
<rect x="491.6" y="771.0" width="27" height="1.4" fill="#6a6590"/>
<rect x="518.0" y="758.0" width="250.0" height="27.5" rx="13.75" fill="#a6b3d1"/>
<rect x="518.0" y="758.0" width="123.3" height="27.5" rx="13.75" fill="#26489d"/>
<text x="432.5" y="782.0" font-family="DejaVu Sans Condensed, DejaVu Sans, Liberation Sans, sans-serif" font-stretch="condensed" font-size="26.6" font-weight="bold" fill="#f55a7a" letter-spacing="1.2" stroke="#f55a7a" stroke-width="0.3" textLength="52" lengthAdjust="spacingAndGlyphs">27%</text>
<text x="709.0" y="782.0" font-family="DejaVu Sans Condensed, DejaVu Sans, Liberation Sans, sans-serif" font-stretch="condensed" font-size="26.6" font-weight="bold" fill="#26489d" letter-spacing="1.2" stroke="#26489d" stroke-width="0.3" textLength="52" lengthAdjust="spacingAndGlyphs">39%</text>
<text x="207" y="818.4" font-size="16.8" fill="#6a6590" text-anchor="end">Friend</text>
<rect x="221" y="807.8" width="1.6" height="10" fill="#6a6590"/>
<rect x="221" y="812.0" width="22" height="1.4" fill="#6a6590"/>
<rect x="242.3" y="799.0" width="249.3" height="27.5" rx="13.75" fill="#fdc3cc"/>
<rect x="242.3" y="799.0" width="66.4" height="27.5" rx="13.75" fill="#fb5a79"/>
<rect x="491.6" y="812.0" width="27" height="1.4" fill="#6a6590"/>
<rect x="518.0" y="799.0" width="250.0" height="27.5" rx="13.75" fill="#a6b3d1"/>
<rect x="518.0" y="799.0" width="83.2" height="27.5" rx="13.75" fill="#26489d"/>
<text x="432.5" y="823.0" font-family="DejaVu Sans Condensed, DejaVu Sans, Liberation Sans, sans-serif" font-stretch="condensed" font-size="26.6" font-weight="bold" fill="#f55a7a" letter-spacing="1.2" stroke="#f55a7a" stroke-width="0.3" textLength="52" lengthAdjust="spacingAndGlyphs">21%</text>
<text x="709.0" y="823.0" font-family="DejaVu Sans Condensed, DejaVu Sans, Liberation Sans, sans-serif" font-stretch="condensed" font-size="26.6" font-weight="bold" fill="#26489d" letter-spacing="1.2" stroke="#26489d" stroke-width="0.3" textLength="52" lengthAdjust="spacingAndGlyphs">26%</text>
<text x="207" y="859.4" font-size="16.8" fill="#6a6590" text-anchor="end">Non-College Roommate</text>
<rect x="221" y="848.8" width="1.6" height="10" fill="#6a6590"/>
<rect x="221" y="853.0" width="22" height="1.4" fill="#6a6590"/>
<rect x="242.3" y="840.0" width="249.3" height="27.5" rx="13.75" fill="#fdc3cc"/>
<rect x="242.3" y="840.0" width="66.4" height="27.5" rx="13.75" fill="#fb5a79"/>
<rect x="491.6" y="853.0" width="27" height="1.4" fill="#6a6590"/>
<rect x="518.0" y="840.0" width="250.0" height="27.5" rx="13.75" fill="#a6b3d1"/>
<rect x="518.0" y="840.0" width="73.9" height="27.5" rx="13.75" fill="#26489d"/>
<text x="432.5" y="864.0" font-family="DejaVu Sans Condensed, DejaVu Sans, Liberation Sans, sans-serif" font-stretch="condensed" font-size="26.6" font-weight="bold" fill="#f55a7a" letter-spacing="1.2" stroke="#f55a7a" stroke-width="0.3" textLength="52" lengthAdjust="spacingAndGlyphs">21%</text>
<text x="709.0" y="864.0" font-family="DejaVu Sans Condensed, DejaVu Sans, Liberation Sans, sans-serif" font-stretch="condensed" font-size="26.6" font-weight="bold" fill="#26489d" letter-spacing="1.2" stroke="#26489d" stroke-width="0.3" textLength="52" lengthAdjust="spacingAndGlyphs">23%</text>
<path fill="url(#fshadow)" d="M9,902.5 L20,902.5 L20,940 L16,940 Z"/>
<rect x="19.9" y="892.7" width="734.1" height="48" fill="#ebe8ef"/>
<text y="922.6" font-size="16.5" fill="#6a6590"><tspan x="34.5" font-weight="bold" stroke="#6a6590" stroke-width="0.6" textLength="65.3" lengthAdjust="spacingAndGlyphs">Source:</tspan> <tspan x="104" textLength="268.5" lengthAdjust="spacingAndGlyphs">Survey of 1,012 people who've stolen</tspan></text>
<rect x="379.40" y="917.2" width="1.3" height="1.3" fill="#c6c0d1"/>
<rect x="386.42" y="917.2" width="1.3" height="1.3" fill="#c6c0d1"/>
<rect x="393.44" y="917.2" width="1.3" height="1.3" fill="#c6c0d1"/>
<rect x="400.46" y="917.2" width="1.3" height="1.3" fill="#c6c0d1"/>
<rect x="407.48" y="917.2" width="1.3" height="1.3" fill="#c6c0d1"/>
<rect x="414.50" y="917.2" width="1.3" height="1.3" fill="#c6c0d1"/>
<rect x="421.52" y="917.2" width="1.3" height="1.3" fill="#c6c0d1"/>
<rect x="428.54" y="917.2" width="1.3" height="1.3" fill="#c6c0d1"/>
<rect x="435.56" y="917.2" width="1.3" height="1.3" fill="#c6c0d1"/>
<rect x="442.58" y="917.2" width="1.3" height="1.3" fill="#c6c0d1"/>
<rect x="449.60" y="917.2" width="1.3" height="1.3" fill="#c6c0d1"/>
<rect x="456.62" y="917.2" width="1.3" height="1.3" fill="#c6c0d1"/>
<rect x="463.64" y="917.2" width="1.3" height="1.3" fill="#c6c0d1"/>
<rect x="470.66" y="917.2" width="1.3" height="1.3" fill="#c6c0d1"/>
<rect x="477.68" y="917.2" width="1.3" height="1.3" fill="#c6c0d1"/>
<rect x="484.70" y="917.2" width="1.3" height="1.3" fill="#c6c0d1"/>
<rect x="491.72" y="917.2" width="1.3" height="1.3" fill="#c6c0d1"/>
<rect x="498.74" y="917.2" width="1.3" height="1.3" fill="#c6c0d1"/>
<rect x="505.76" y="917.2" width="1.3" height="1.3" fill="#c6c0d1"/>
<rect x="512.78" y="917.2" width="1.3" height="1.3" fill="#c6c0d1"/>
<rect x="519.80" y="917.2" width="1.3" height="1.3" fill="#c6c0d1"/>
<rect x="526.82" y="917.2" width="1.3" height="1.3" fill="#c6c0d1"/>
<rect x="533.84" y="917.2" width="1.3" height="1.3" fill="#c6c0d1"/>
<rect x="540.86" y="917.2" width="1.3" height="1.3" fill="#c6c0d1"/>
<rect x="547.88" y="917.2" width="1.3" height="1.3" fill="#c6c0d1"/>
<rect x="554.90" y="917.2" width="1.3" height="1.3" fill="#c6c0d1"/>
<text y="924.3" font-size="25" fill="#485a6e"><tspan x="587.6" textLength="31" lengthAdjust="spacingAndGlyphs">net</tspan><tspan x="621.6" font-size="31" fill="#f0621e" stroke="#f0621e" stroke-width="0.5" textLength="26" lengthAdjust="spacingAndGlyphs">Q</tspan><tspan x="648.6" font-size="20.3" fill="#f0621e" textLength="49.5" lengthAdjust="spacingAndGlyphs">UOTE</tspan></text>
<rect x="628" y="925.9" width="24" height="9" fill="#ebe8ef"/>
<path fill="#ebe8ef" d="M633.8,913.8 L647,924.8 L647,929 L633.8,929 Z"/>
<rect x="633.5" y="922.3" width="12" height="3.5" fill="#f0621e"/>
<path fill="#485a6e" d="M646.2,921.6 L649.2,923.8 L646.2,926 L646.9,923.8 Z"/>
<path fill="#c8c0d5" transform="translate(-1.8,1.6)" d="M740,920.5 Q742.5,918.5 745.5,920 L752,926.3 Q755.5,927.3 757.6,925 Q759.5,922 757.6,919.6 Q755.5,918.3 754,917.5 L754,903 L756.8,906.5 L759.5,898.3 L763,907 L768.2,902.3 L771,932 L800,940 L756,940 Z"/>
<path fill="#f0621e" d="M740,920.5 Q742.5,918.5 745.5,920 L752,926.3 Q755.5,927.3 757.6,925 Q759.5,922 757.6,919.6 Q755.5,918.3 754,917.5 L754,903 L756.8,906.5 L759.5,898.3 L763,907 L768.2,902.3 L771,932 L800,940 L756,940 Z"/>
</svg>
</body></html>
